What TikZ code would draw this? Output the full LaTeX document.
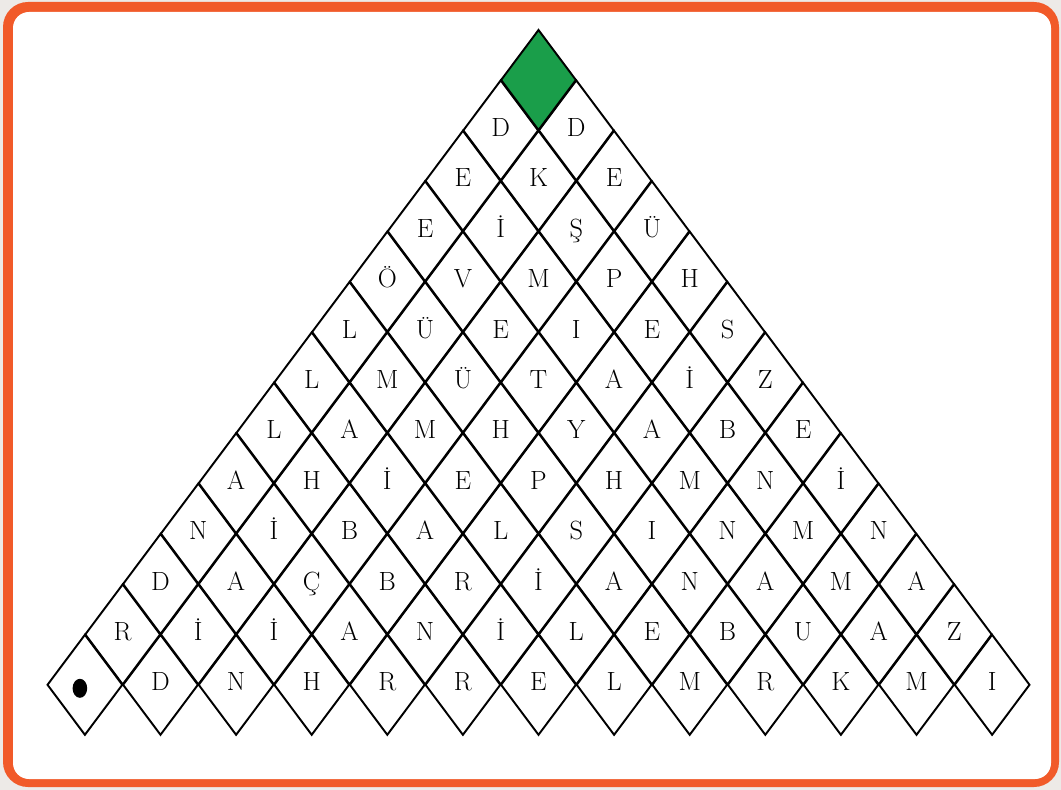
\documentclass[tikz,border=0pt]{standalone}
\usepackage{tikz}
\usetikzlibrary{shapes.geometric}
\usepackage{xcolor}
\definecolor{frameorange}{RGB}{241,90,41}
\definecolor{cellgreen}{RGB}{26,158,74}
\definecolor{pagegrey}{RGB}{237,234,231}

\begin{document}
\begin{tikzpicture}[x=0.02cm,y=-0.02cm,
    cell/.style={diamond,draw=black,line width=1.1pt,inner sep=0pt,
      minimum width=1.512cm,minimum height=2.016cm,
      font=\fontsize{15}{18}\selectfont,text height=1.6ex,text depth=0ex}]
  \useasboundingbox (0,0) rectangle (1061,790);
  % frame
  \fill[pagegrey] (0,0) rectangle (1061,790);
  \fill[frameorange,rounded corners=0.5cm] (3,2) rectangle (1059,787);
  \fill[white,rounded corners=0.32cm] (13,12) rectangle (1051,779);
  % top cell
  \node[cell,fill=cellgreen] (c-0-0) at (538.5,80) {};
  % letter rows
  \foreach \r/\row in {
    1/{D,D},
    2/{E,K,E},
    3/{E,İ,Ş,Ü},
    4/{Ö,V,M,P,H},
    5/{L,Ü,E,I,E,S},
    6/{L,M,Ü,T,A,İ,Z},
    7/{L,A,M,H,Y,A,B,E},
    8/{A,H,İ,E,P,H,M,N,İ},
    9/{N,İ,B,A,L,S,I,N,M,N},
    10/{D,A,Ç,B,R,İ,A,N,A,M,A},
    11/{R,İ,İ,A,N,İ,L,E,B,U,A,Z},
    12/{{},D,N,H,R,R,E,L,M,R,K,M,I}} {
    \foreach \t [count=\j from 0] in \row {
      \node[cell] (c-\r-\j) at ({538.5-37.8*\r+75.6*\j},{80+50.4*\r}) {\t};
    }
  }
  % start mark
  \fill (c-12-0.center) ++(-5,3.5) ellipse [x radius=0.146cm,y radius=0.19cm];
\end{tikzpicture}
\end{document}
